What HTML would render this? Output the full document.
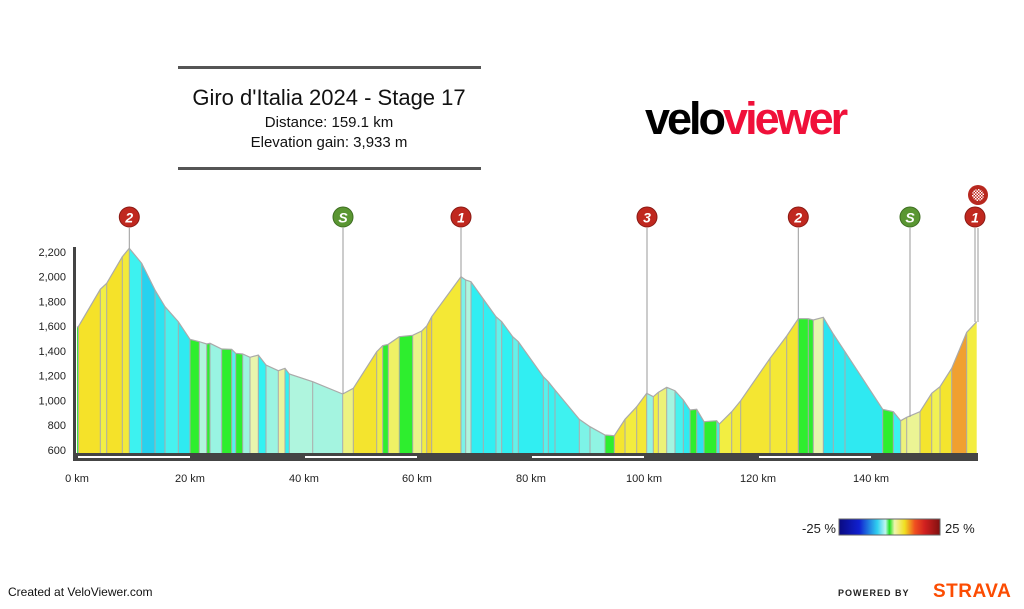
<!DOCTYPE html>
<html><head><meta charset="utf-8"><style>
body{margin:0;width:1024px;height:604px;background:#fff;overflow:hidden;font-family:"Liberation Sans",Arial,sans-serif}
</style></head><body>
<svg id="s" width="1024" height="604" xmlns="http://www.w3.org/2000/svg" font-family="Liberation Sans, Arial, sans-serif">
<defs>
<linearGradient id="cb" x1="0" x2="1" y1="0" y2="0">
<stop offset="0" stop-color="#0a0a80"/><stop offset="0.2" stop-color="#1020d0"/><stop offset="0.38" stop-color="#30d0f0"/><stop offset="0.46" stop-color="#c0f5f0"/><stop offset="0.5" stop-color="#20e020"/><stop offset="0.55" stop-color="#f0f5b0"/><stop offset="0.65" stop-color="#f0e020"/><stop offset="0.75" stop-color="#f05020"/><stop offset="0.85" stop-color="#d02020"/><stop offset="1" stop-color="#801010"/>
</linearGradient>
<pattern id="chk" width="3" height="3" patternUnits="userSpaceOnUse"><rect width="3" height="3" fill="#c0281f"/><rect width="1.5" height="1.5" fill="#fff"/><rect x="1.5" y="1.5" width="1.5" height="1.5" fill="#fff"/></pattern>
</defs>
<rect x="178" y="66" width="303" height="3" fill="#555"/>
<rect x="178" y="167" width="303" height="3" fill="#555"/>
<text x="329" y="105" font-size="22" text-anchor="middle" fill="#111">Giro d'Italia 2024 - Stage 17</text>
<text x="329" y="127" font-size="15" text-anchor="middle" fill="#111">Distance: 159.1 km</text>
<text x="329" y="147" font-size="15" text-anchor="middle" fill="#111">Elevation gain: 3,933 m</text>
<text x="645" y="134" font-size="45" font-weight="bold" letter-spacing="-3" fill="#000">velo<tspan fill="#f0103a">viewer</tspan></text>
<g id="prof"></g>
<g id="yl" font-size="11" fill="#222" text-anchor="end"></g>
<rect x="73" y="247" width="3" height="212" fill="#444"/>
<rect x="73" y="453" width="905" height="8" fill="#444"/>
<g fill="#fff"><rect x="78" y="456" width="112" height="2"/><rect x="305" y="456" width="112" height="2"/><rect x="532" y="456" width="112" height="2"/><rect x="759" y="456" width="112" height="2"/></g>
<g font-size="11" fill="#222" text-anchor="middle">
<text x="77" y="482">0 km</text><text x="190" y="482">20 km</text><text x="304" y="482">40 km</text><text x="417" y="482">60 km</text><text x="531" y="482">80 km</text><text x="644" y="482">100 km</text><text x="758" y="482">120 km</text><text x="871" y="482">140 km</text>
</g>
<g id="mk"></g>
<circle cx="978" cy="195" r="10" fill="#b8281f"/><circle cx="978" cy="195" r="6" fill="url(#chk)"/>
<text x="836" y="533" font-size="13" text-anchor="end" fill="#222">-25 %</text>
<rect x="839" y="519" width="101" height="16" fill="url(#cb)" stroke="#666"/>
<text x="945" y="533" font-size="13" fill="#222">25 %</text>
<text x="8" y="596" font-size="12" fill="#111">Created at VeloViewer.com</text>
<text x="838" y="596" font-size="9" font-weight="bold" letter-spacing="1" fill="#222">POWERED BY</text>
<text x="933" y="597" font-size="19" font-weight="bold" letter-spacing="0.5" fill="#fc4c02">STRAVA</text>
</svg>
<script>
var P=[[77,327],[78.3,326.7],[100.3,289.3],[106.7,283.3],[122.3,256.7],[129.3,248.3],[141.7,263.3],[155,290],[165,306.7],[178.3,321.7],[190,339.3],[199.3,341.7],[206.7,344],[210,343.3],[221.7,349],[231.7,349.3],[235.7,353.3],[242.7,354],[250,357.3],[258.3,355],[266,365],[278.3,370.7],[285,368.3],[289.3,374],[312.7,381.7],[342.7,394],[353.3,388.3],[376.7,351.7],[382.7,345.7],[388.3,344.3],[399.3,336.7],[412.7,335.3],[421.7,331],[426.7,326],[431.7,316.7],[461,276.7],[465.7,280],[471,281.7],[483.3,299],[496,316.7],[501.7,321.7],[512.7,336.7],[518.3,341.7],[543.3,376.7],[548.3,381.7],[555,390],[579.3,419.3],[590,426.7],[605,435],[614.3,435.7],[625,419.3],[636.7,406.7],[646.7,393.3],[653.3,396.7],[658.3,392.3],[666.7,387.3],[675,390.7],[683.3,400],[690,410],[696.7,409.3],[704,421.7],[716.7,420.7],[719.3,424],[731.7,411.7],[740.7,400.7],[770,358.3],[786.7,336],[798.3,318.7],[808.3,318.7],[813.3,320],[823.3,317.3],[833.3,334],[845,351.7],[882.7,409.3],[893.3,411.7],[900.7,420.7],[906.7,417.3],[920,411.7],[931.7,393.3],[940,386.7],[951.7,368.3],[966.7,332.3],[976.7,321.7]];
function lerp(a,b,t){return a.map(function(v,i){return Math.round(v+(b[i]-v)*t)})}
function sc(stops,g){for(var i=0;i<stops.length-1;i++){var a=stops[i],b=stops[i+1];if(g<=b[0]){var t=(g-a[0])/(b[0]-a[0]);return lerp(a[1],b[1],Math.max(0,Math.min(1,t)))}}return stops[stops.length-1][1]}
function col(g){var c;
if(g>-1.2&&g<1.2)c=[46,238,46];
else if(g>=1.2)c=sc([[1.2,[232,245,176]],[4,[242,240,70]],[8,[245,225,40]],[11,[240,160,48]],[15,[220,50,30]]],g);
else c=sc([[-1.2,[184,245,220]],[-4,[100,242,235]],[-6,[50,242,242]],[-9,[40,216,240]],[-15,[20,60,200]]],-(-g)+0*g<0?g:g), c=sc([[-15,[20,60,200]],[-9,[40,216,240]],[-6,[50,242,242]],[-4,[100,242,235]],[-1.2,[184,245,220]]],g);
return "rgb("+c.join(",")+")"}
var h="",B=453;
for(var i=0;i<P.length-1;i++){var a=P[i],b=P[i+1];var g=4.59*(a[1]-b[1])/(b[0]-a[0]);
h+='<polygon points="'+a[0]+','+B+' '+a[0]+','+a[1]+' '+b[0]+','+b[1]+' '+b[0]+','+B+'" fill="'+col(g)+'"/>';}
for(var i=1;i<P.length-1;i++)h+='<line x1="'+P[i][0]+'" y1="'+P[i][1]+'" x2="'+P[i][0]+'" y2="'+B+'" stroke="#aaa" stroke-width="1"/>';
h+='<polyline points="'+P.map(function(p){return p.join(",")}).join(" ")+'" fill="none" stroke="#aaa" stroke-width="1.2"/>';
document.getElementById("prof").innerHTML=h;
var y="";[2200,2000,1800,1600,1400,1200,1000,800,600].forEach(function(e){var yy=450-(e-600)*0.1238;y+='<text x="66" y="'+(yy+4)+'">'+e.toLocaleString("en-US")+'</text>'});
document.getElementById("yl").innerHTML=y;
var M=[[129.3,248.3,"2","r"],[343,394,"S","g"],[461,276.7,"1","r"],[647,393,"3","r"],[798.3,318.7,"2","r"],[910,417,"S","g"],[975,322,"1","r"]];
var m="";M.forEach(function(k){m+='<line x1="'+k[0]+'" y1="228" x2="'+k[0]+'" y2="'+k[1]+'" stroke="#999" stroke-width="1"/>';
m+='<circle cx="'+k[0]+'" cy="217" r="10" fill="'+(k[3]=="r"?"#c0281f":"#5a9632")+'" stroke="'+(k[3]=="r"?"#8a1a14":"#3e6e22")+'" stroke-width="1"/><text x="'+k[0]+'" y="222.5" font-size="14" font-weight="bold" font-style="italic" fill="#fff" text-anchor="middle">'+k[2]+'</text>';});
m+='<line x1="978" y1="228" x2="978" y2="322" stroke="#999"/>';
document.getElementById("mk").innerHTML=m;
</script>
</body></html>
